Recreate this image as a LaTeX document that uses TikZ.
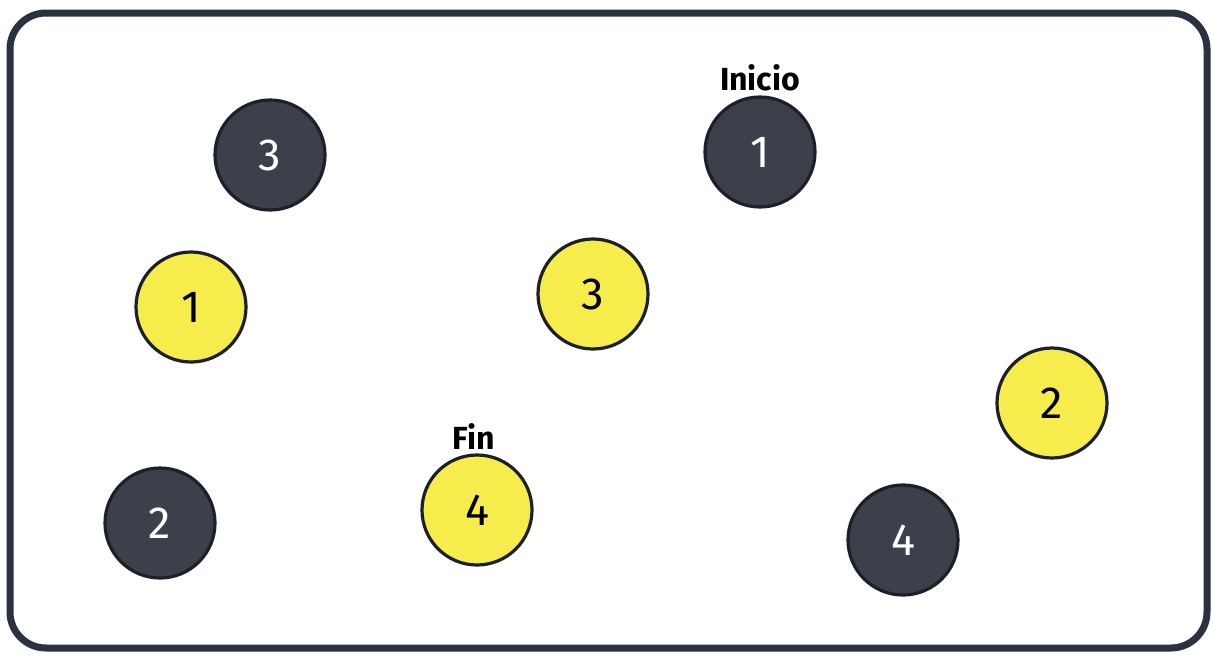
\documentclass[tikz,border=0pt]{standalone}
\usepackage{fontspec}
\setmainfont{Fira Sans}
\definecolor{darkfill}{HTML}{3B404B}
\definecolor{yel}{HTML}{F6EC4C}
\definecolor{edge}{HTML}{1C2028}
\definecolor{frame}{HTML}{2A3140}
\tikzset{
  dot/.style={circle, minimum size=110pt, inner sep=0pt, line width=3.2pt, draw=edge, font=\fontsize{45}{48}\selectfont},
  darkdot/.style={dot, fill=darkfill, text=white},
  yeldot/.style={dot, fill=yel, text=black},
  lab/.style={font=\fontsize{32}{34}\selectfont\bfseries, text=black}
}
\begin{document}
\begin{tikzpicture}[x=1pt,y=-1pt]
\useasboundingbox (0,0) rectangle (1213,657);
\draw[frame, line width=7pt, rounded corners=36pt] (10,13) rectangle (1207,648);
\node[darkdot] (d3) at (270,155) {3};
\node[darkdot] (d1) at (760,152) {1};
\node[yeldot] (y1) at (191,307) {1};
\node[yeldot] (y3) at (593,294) {3};
\node[yeldot] (y2) at (1052,403) {2};
\node[yeldot] (y4) at (477,510) {4};
\node[darkdot] (d2) at (160,523) {2};
\node[darkdot] (d4) at (903,540) {4};
\node[lab] (ini) at (760,78) {Inicio};
\node[lab] (fin) at (474,437) {Fin};
\end{tikzpicture}
\end{document}
